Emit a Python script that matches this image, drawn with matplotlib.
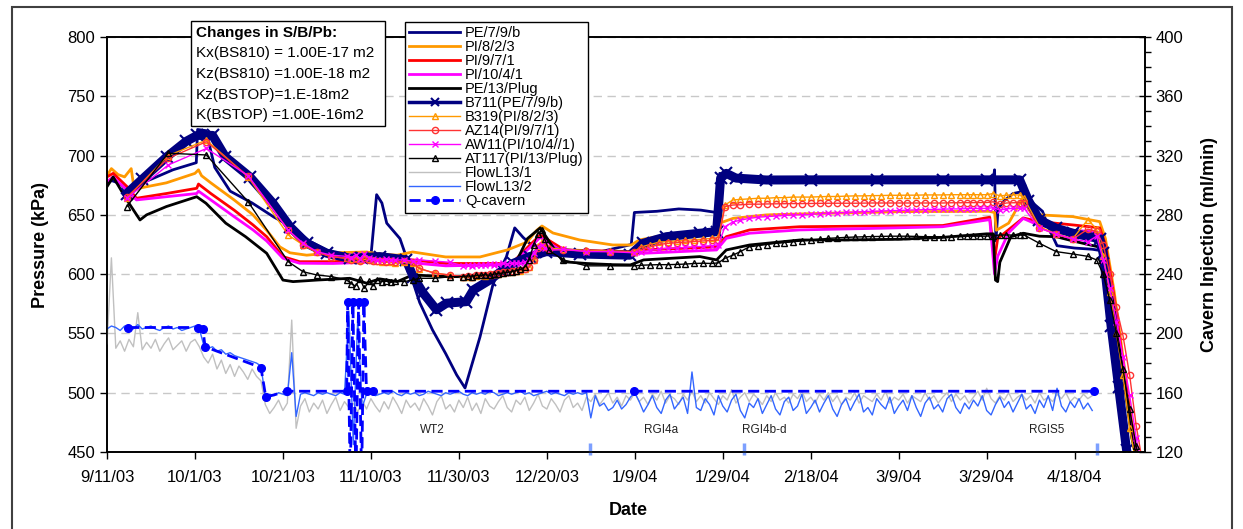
import matplotlib
matplotlib.use("Agg")
import matplotlib.pyplot as plt
import matplotlib.dates as mdates
from matplotlib.lines import Line2D
from matplotlib.patches import Rectangle
from matplotlib.ticker import FixedLocator, FuncFormatter, MultipleLocator
import numpy as np

plt.rcParams["font.family"] = ["Liberation Sans", "DejaVu Sans"]

START = np.datetime64("2003-09-11")

# model curves (days after 9/11/03, kPa)
pe7_days = [0, 1, 2.5, 4.5, 10, 15, 20.3, 20.6, 22.5, 24.5,
            28, 33, 38, 42, 46, 50, 54, 58, 60, 61.3,
            62.5, 63.6, 66.6, 68, 69.6, 71.1, 74, 77, 79.5, 81.4,
            84.8, 87.8, 90.8, 92.7, 94.6, 96.1, 100, 105, 112, 119.2,
            119.9, 125, 130, 135, 138.6, 139.3, 141, 144, 150, 170,
            190, 201.5, 201.8, 202.1, 202.6, 204, 206, 208.6, 210.5, 212.7,
            214, 216, 220, 224, 225.7, 227, 229, 231, 232]
pe7_kpa = [676, 679, 677, 672, 680, 688, 694, 722, 721, 690,
           670, 660, 648, 640, 628, 620, 616, 613, 615, 667,
           660, 643, 630, 615, 593, 576, 553, 533, 515, 504,
           547, 592, 614.5, 639, 631, 626, 620, 619, 618.7, 625,
           652, 653, 655, 654, 652, 685, 683, 681, 680, 680,
           680, 680, 688, 628, 655, 662, 668, 670, 660, 653,
           640, 624, 622, 621, 620, 585, 520, 462, 440]

pi8_days = [0, 1, 2.5, 4, 5.5, 6.2, 8, 13.5, 20, 20.8,
            21.5, 23.6, 28.9, 33.2, 36.3, 39.3, 41.6, 45.4, 51.4, 59,
            62, 66, 69.5, 77, 84.8, 91, 95.5, 97.7, 98.9, 101.4,
            107.5, 115, 119.2, 121, 127, 135, 138.6, 139.3, 142.3, 150,
            160, 180, 200.5, 201.8, 202.2, 205, 208.3, 212, 219.6, 225.7,
            227, 229, 231, 233, 234]
pi8_kpa = [683, 689, 684, 682, 689, 671, 673, 677, 685, 688,
           683, 677, 662.6, 650, 637, 623, 618, 616, 618, 618.7,
           617, 616, 618.7, 614.5, 614.5, 620.4, 627, 637, 640.6, 634.7,
           628.8, 624.6, 624.6, 628.8, 633, 634, 634.5, 643, 647, 650,
           651, 652.7, 653, 652, 637, 643, 665, 650, 648.5, 644.3,
           630, 585, 530, 475, 448]

pi9_days = [0, 1.4, 4.5, 6.7, 13.5, 20.4, 20.8, 23.6, 28.9, 33.2,
            36.3, 40, 43.8, 51.4, 59, 62, 77, 92, 96, 98.5,
            104, 119, 122, 138.6, 140.8, 146.1, 157.5, 175.7, 190, 200.7,
            201.8, 202.5, 208.3, 212, 219.6, 223.4, 225.7, 227, 229, 231,
            233, 234]
pi9_kpa = [682, 685, 674, 664, 668, 672.4, 676, 668, 654, 641.5,
           631.6, 614.8, 610.5, 610.5, 612, 614.8, 609, 609, 624, 633,
           620.4, 619, 620.4, 623, 631.6, 637.3, 640, 640.6, 641, 648,
           612, 630, 647.4, 644.3, 641.5, 640, 639, 625, 580, 525,
           470, 445]

pi10_days = [0, 1.4, 4.5, 6.7, 13.5, 20.4, 20.8, 23.6, 28.9, 33.2,
             36.3, 40, 43.8, 51.4, 59, 62, 77, 92, 96, 98.5,
             104, 119, 122, 138.6, 140.8, 146.1, 157.5, 175.7, 190, 200.7,
             201.8, 202.5, 205, 208.3, 212, 219.6, 223.4, 225.7, 227, 229,
             231, 233, 234]
pi10_kpa = [678, 682, 671, 662.6, 665.3, 668, 670, 662.6, 648.5, 637.3,
            628, 613.4, 609.2, 609, 610, 612, 607, 608, 622, 631,
            618, 617.6, 617.6, 620.4, 630.2, 634.5, 637.3, 638.7, 640, 646,
            600, 615, 635, 647, 641, 637, 636, 635, 620, 575,
            520, 465, 445]

pe13_days = [0, 1.4, 4.5, 7.5, 9, 13.5, 20.4, 22.5, 27, 31.5,
             36.3, 40, 42.3, 47.7, 55.2, 59, 62, 66, 69.5, 77,
             84, 88, 93, 95.6, 98.5, 101, 103.7, 109, 115, 119,
             122, 134.8, 138.6, 140.8, 146.1, 157.5, 166.6, 180, 190, 200,
             201.5, 202, 202.5, 203, 205.5, 208.3, 212, 215.8, 219.6, 225.4,
             227, 229, 231, 233, 234]
pe13_kpa = [673.8, 682, 662.6, 645.7, 650, 657, 665.3, 659.8, 643, 631.6,
            617.6, 595, 593.7, 595, 596.5, 592.4, 596, 593.7, 599.3, 598,
            597.7, 600.7, 610, 630, 639, 625, 610.5, 609, 608, 607.8,
            612, 614.8, 612, 620.4, 624.6, 628.8, 628.8, 629.4, 631, 634,
            634, 595, 593.7, 610, 631.6, 634.5, 632, 631.6, 628, 623,
            610, 570, 515, 462, 445]

# measured gauges
b711_days = [4.5, 8.0, 13.6, 18.0, 20.5, 24.0, 26.9, 32.5, 37.7, 41.6,
             45.4, 50.0, 55.2, 58.0, 62.0, 68.0, 69.6, 71.9, 74.9, 77.2,
             81.7, 83.3, 87.0, 90.0, 92.3, 96.1, 99.9, 107.5, 118.9, 121.9,
             127.2, 134.8, 138.6, 139.5, 140.8, 143.0, 149.9, 160.0, 175.0, 190.0,
             200.0, 207.5, 209.5, 212.0, 215.8, 219.6, 223.4, 225.7, 226.5, 228.3,
             230.0, 231.8, 233.0]
b711_kpa = [668, 680, 699, 712, 717, 717, 699, 682, 660, 640,
            626, 617.6, 613.4, 614, 614.8, 612, 598, 584, 570, 575.5,
            576.8, 586.7, 595, 603.5, 609, 614.8, 619, 617, 616, 626,
            631.6, 634.5, 635.8, 680.8, 685, 681, 679.4, 679.5, 679.5, 679.5,
            679.5, 679.5, 662, 645.7, 638.7, 634.5, 631.6, 630, 618, 556,
            505, 452, 430]

obs_days = [4.5, 13.9, 22.6, 32.1, 41.2, 44.6, 47.7, 51.0, 54.5, 55.5,
            56.5, 57.5, 58.5, 59.5, 60.5, 61.5, 62.5, 63.5, 64.5, 65.5,
            67.5, 69.5, 71.0, 74.5, 78.0, 81.0, 82.0, 83.0, 84.0, 85.0,
            86.0, 87.0, 88.0, 89.0, 90.0, 91.0, 92.0, 93.0, 94.0, 95.0,
            96.0, 97.0, 98.0, 98.8, 99.5, 100.5, 103.7, 109.0, 114.3, 119.8,
            121.5, 123.5, 125.5, 127.5, 129.5, 131.5, 133.5, 135.5, 137.5, 139.0,
            140.5, 142.3, 144.0, 146.0, 148.0, 150.0, 152.0, 154.0, 156.0, 158.0,
            160.0, 162.0, 164.0, 166.0, 168.0, 170.0, 172.0, 174.0, 176.0, 178.0,
            180.0, 182.0, 184.0, 186.0, 188.0, 190.0, 192.0, 194.0, 195.5, 197.0,
            198.5, 200.0, 201.5, 203.0, 204.5, 206.0, 207.5, 208.5, 212.0, 215.8,
            219.6, 223.0, 225.0, 226.5, 228.0, 229.5, 231.0, 232.5, 234.0, 235.5]
b319_kpa = [664, 700, 713, 682, 633, 624.6, 618.5, 614.8, 613.4, 613,
            614, 612, 615, 613, 612, 611, 610, 611, 610, 609,
            610, 609, 604.5, 601, 599, 597.5, 598, 597.5, 598.5, 599,
            598.5, 599.5, 600, 600.5, 601, 601.5, 602, 602.5, 603, 604,
            606, 612, 624, 627, 624, 622, 621, 620, 619.5, 619,
            623, 625, 627, 627.5, 628, 628.5, 629, 629.5, 630.2, 631,
            658.3, 662.6, 663, 663.5, 664, 664, 664.5, 664.5, 665, 665,
            665, 665.3, 665.5, 665.5, 665.8, 666, 666, 666.2, 666.3, 666.5,
            666.5, 666.6, 666.6, 666.8, 666.8, 666.8, 667, 667, 667, 667,
            667, 667, 668, 666, 666.5, 666.8, 666.8, 664, 640, 634,
            630, 646, 638, 615, 585, 550, 515, 470, 440, 420]
az14_kpa = [665, 697.7, 711.7, 682.5, 637.3, 624.6, 618.5, 614.8, 613.4, 612,
            613, 611, 614, 612, 611, 611, 611, 610, 611, 610,
            611, 610, 605, 600.7, 599.3, 598, 598.5, 598, 599, 599.5,
            599, 600, 600.5, 601, 601.5, 602, 602.5, 603, 603.5, 604,
            606, 612, 622, 625, 623, 621, 620.4, 619.5, 619, 618.5,
            621, 623, 625, 626, 626.5, 627, 627.5, 628, 628.5, 629,
            657, 658.3, 658.5, 659, 659, 659.2, 659.3, 659.4, 659.5, 659.5,
            659.6, 659.7, 659.8, 659.8, 659.8, 659.8, 659.9, 660, 660, 660,
            660, 660, 660, 660, 660, 660, 660.2, 660.2, 660.3, 660.3,
            660.4, 660.4, 661, 659, 660, 660.2, 660.3, 660, 639, 633.5,
            629.5, 638, 636, 625, 600, 572, 548, 515, 472, 440]
aw11_kpa = [664, 692, 706, 683, 637, 626, 619, 616, 615, 614,
            616, 613, 617, 614, 613, 612, 612, 613, 612, 612,
            612, 611, 612, 611, 610, 607, 607.5, 607, 608, 607.5,
            608, 608.5, 608, 608.5, 609, 608.5, 609, 609.5, 609, 610,
            612, 618, 623, 625, 622, 620, 621, 619, 619, 618,
            619, 620, 621, 621.8, 622, 622.5, 623, 623.5, 624, 624.6,
            640, 644, 645.5, 647, 648, 648.5, 649, 649.5, 650, 650,
            650.5, 651, 651.3, 651.6, 652, 652.3, 652.6, 653, 653.2, 653.5,
            653.7, 654, 654.2, 654.4, 654.6, 654.8, 655, 655, 655.2, 655.3,
            655.4, 655.5, 656, 654, 655, 655.5, 655.6, 655.5, 638.7, 634,
            629.5, 627.4, 632, 612, 588, 560, 530, 498, 462, 432]
at117_kpa = [657, 702, 700.5, 661, 610.5, 602, 599.3, 598, 595, 592,
             590, 596, 588, 594, 590, 595, 593.7, 594, 593, 594,
             593.7, 595, 596.5, 596.5, 597.8, 598, 598.5, 598, 599, 599,
             599.5, 599, 600, 600.5, 601, 601.5, 602, 603, 604, 606,
             612, 625, 634, 637, 630, 620, 612, 607, 607, 607,
             607.5, 607.8, 608, 608, 608.2, 608.5, 609, 609.2, 609, 609.5,
             613.4, 616, 619, 623, 624, 625, 626, 626.6, 627.3, 628,
             628.8, 629.5, 630.2, 630.6, 631, 631.3, 631.5, 631.7, 631.8, 632,
             632, 632, 631.8, 631.6, 631.6, 631.6, 631.7, 631.8, 632, 632,
             632, 632, 632.5, 633, 633, 633, 633, 633, 626, 619,
             617, 615, 612, 600, 578, 550, 520, 486, 455, 430]

# flow lines, daily values from 9/11/03 (ml/min)
flow_l13_1 = [193, 251, 190, 195, 188, 196, 191, 214, 189, 194,
              190, 196, 188, 193, 197, 189, 192, 195, 188, 194,
              196, 191, 184, 180, 186, 176, 182, 173, 179, 171,
              178, 174, 169, 176, 171, 168, 152, 146, 150, 155,
              148, 153, 209, 136, 151, 156, 147, 153, 149, 155,
              146, 152, 157, 148, 154, 150, 153, 147, 155, 149,
              156, 151, 147, 154, 149, 157, 152, 146, 155, 150,
              153, 148, 156, 151, 145, 154, 158, 149, 152, 147,
              155, 150, 157, 148, 153, 146, 156, 151, 149, 154,
              158, 150, 147, 155, 152, 157, 148, 153, 159, 151,
              149, 156, 152, 147, 155, 158, 150, 153, 148, 157,
              154, 159, 152, 156, 160, 153, 157, 151, 158, 155,
              160, 154, 157, 152, 159, 155, 161, 153, 158, 156,
              152, 159, 155, 161, 154, 158, 153, 160, 156, 152,
              158, 155, 162, 153, 157, 160, 154, 159, 156, 152,
              158, 154, 160, 155, 157, 153, 159, 156, 161, 154,
              157, 153, 159, 155, 160, 154, 158, 152, 157, 155,
              160, 153, 158, 156, 154, 159, 155, 161, 153, 157,
              155, 159, 153, 158, 156, 154, 160, 155, 158, 153,
              157, 160, 154, 159, 155, 158, 153, 157, 161, 155,
              163, 156, 153, 158, 155, 160, 154, 157, 159, 155,
              158, 153, 160, 155, 157, 154, 159, 156, 160, 154,
              157, 155, 159, 156, 158]
flow_l13_2 = [203, 205, 204, 202, 205, 204, 203, 206, 203, 204,
              205, 203, 202, 204, 205, 203, 204, 202, 203, 204,
              205, 203, 192, 190, 191, 188, 189, 186, 187, 185,
              184, 183, 182, 181, 180, 178, 157, 159, 158, 160,
              159, 158, 187, 144, 159, 160, 159, 158, 160, 159,
              160, 159, 158, 160, 159, 215, 125, 210, 150, 159,
              160, 158, 159, 160, 159, 161, 159, 158, 160, 159,
              160, 158, 159, 161, 160, 159, 158, 160, 159, 160,
              161, 159, 158, 160, 159, 160, 159, 161, 160, 158,
              159, 160, 159, 160, 161, 159, 160, 158, 159, 160,
              161, 159, 160, 159, 158, 160, 159, 160, 159, 160,
              143, 158, 151, 153, 148, 150, 155, 149, 152, 157,
              160, 154, 147, 152, 158, 150, 146, 155, 159, 149,
              153, 157, 146, 174, 150, 148, 156, 152, 145, 158,
              151, 147, 155, 159, 148, 143, 153, 150, 156, 146,
              152, 158, 149, 145, 154, 157, 148, 151, 159, 146,
              150, 155, 147, 153, 158, 149, 144, 152, 156, 148,
              154, 159, 147, 150, 145, 156, 152, 149, 157, 146,
              151, 155, 148, 158, 150, 144, 153, 157, 149, 152,
              147, 156, 159, 150, 146, 153, 149, 155, 151, 158,
              148, 145, 152, 157, 150, 154, 147, 153, 159, 149,
              152, 146, 155, 150, 158, 148, 163, 151, 147, 154,
              150, 156, 149, 153, 148]

q_days = [4.8, 20.7, 21.8, 22.3, 35.0, 36.1, 40.9, 54.5, 54.7, 55.3,
          55.9, 56.6, 57.2, 57.9, 58.4, 59.0, 60.5, 119.8, 224.5]
q_rate = [204, 204, 203, 191, 177, 157, 161, 161, 221, 100,
          221, 100, 221, 100, 221, 161, 161, 161, 161]

event_labels = ["WT2", "RGI4a", "RGI4b-d", "RGIS5"]
event_label_days = [74, 126, 149.5, 213.6]
event_bar_days = [109.8, 144.8, 225.2]

param_lines = ["Changes in S/B/Pb:",
               "Kx(BS810) = 1.00E-17 m2",
               "Kz(BS810) =1.00E-18 m2",
               "Kz(BSTOP)=1.E-18m2",
               "K(BSTOP) =1.00E-16m2"]

NAVY = "#000080"
ORANGE = "#FF9900"
RED = "#FF0000"
MAGENTA = "#FF00FF"


def to_x(days):
    return mdates.date2num(START) + np.asarray(days, dtype=float)


def fmt_date(v, pos):
    d = mdates.num2date(v)
    return f"{d.month}/{d.day}/{d.year % 100:02d}"


def main():
    W, H = 1243, 529
    fig = plt.figure(figsize=(W / 100, H / 100), dpi=100)
    ax = fig.add_axes([107 / W, 1 - 452 / H, 1038 / W, 415 / H])
    ax2 = ax.twinx()

    lines = []
    lines += ax.plot(to_x(pe7_days), pe7_kpa, color=NAVY, lw=2, label="PE/7/9/b")
    lines += ax.plot(to_x(pi8_days), pi8_kpa, color=ORANGE, lw=2, label="PI/8/2/3")
    lines += ax.plot(to_x(pi9_days), pi9_kpa, color=RED, lw=2, label="PI/9/7/1")
    lines += ax.plot(to_x(pi10_days), pi10_kpa, color=MAGENTA, lw=2, label="PI/10/4/1")
    lines += ax.plot(to_x(pe13_days), pe13_kpa, color="black", lw=2, label="PE/13/Plug")

    ax.plot(to_x(b711_days), b711_kpa, color=NAVY, lw=6.5, marker="x", ms=8, mew=1.5,
            solid_joinstyle="round")
    lines.append(Line2D([], [], color=NAVY, lw=2.5, marker="x", ms=6, mew=1.5,
                        label="B711(PE/7/9/b)"))
    lines += ax.plot(to_x(obs_days), b319_kpa, color=ORANGE, lw=1, marker="^", ms=5,
                     mfc="none", mew=1, label="B319(PI/8/2/3)")
    lines += ax.plot(to_x(obs_days), az14_kpa, color="#FF3333", lw=1, marker="o", ms=4.5,
                     mfc="none", mew=1, label="AZ14(PI/9/7/1)")
    lines += ax.plot(to_x(obs_days), aw11_kpa, color=MAGENTA, lw=1, marker="x", ms=5,
                     mew=1, label="AW11(PI/10/4//1)")
    lines += ax.plot(to_x(obs_days), at117_kpa, color="black", lw=1, marker="^", ms=5,
                     mfc="none", mew=1, label="AT117(PI/13/Plug)")

    flow_days = np.arange(len(flow_l13_1))
    lines += ax2.plot(to_x(flow_days), flow_l13_1, color="#C0C0C0", lw=1, label="FlowL13/1")
    lines += ax2.plot(to_x(np.arange(len(flow_l13_2))), flow_l13_2, color="#3366FF", lw=1,
                      label="FlowL13/2")
    lines += ax2.plot(to_x(q_days), q_rate, color="#0000FF", lw=2, ls=(0, (4, 2)),
                      marker="o", ms=5.5, label="Q-cavern")

    ax2.vlines(to_x(event_bar_days), 118, 126, color="#7DA0FF", lw=2.5, clip_on=False)
    for lab, d in zip(event_labels, event_label_days):
        ax2.text(to_x(d), 134.8, lab, fontsize=8.5, ha="center", va="center", color="#222222")

    ax.set_xlim(to_x(0), to_x(236))
    ax.set_ylim(450, 800)
    ax2.set_ylim(120, 400)
    ax.yaxis.set_major_locator(MultipleLocator(50))
    ax2.yaxis.set_major_locator(MultipleLocator(40))
    ax2.yaxis.set_minor_locator(MultipleLocator(10))
    ax.xaxis.set_major_locator(FixedLocator(to_x(np.arange(0, 221, 20))))
    ax.xaxis.set_major_formatter(FuncFormatter(fmt_date))

    ax.grid(axis="y", color="#C8C8C8", ls=(0, (6, 4)), lw=1)
    ax.set_axisbelow(True)
    ax.tick_params(axis="both", labelsize=12, direction="out", length=5, width=1)
    ax.tick_params(axis="x", pad=8)
    ax2.tick_params(axis="y", which="major", labelsize=12, direction="inout", length=8, width=1)
    ax2.tick_params(axis="y", which="minor", direction="out", length=4, width=1)
    for a in (ax, ax2):
        for s in a.spines.values():
            s.set_linewidth(1.2)

    ax.set_ylabel("Pressure (kPa)", fontsize=13, fontweight="bold")
    ax.yaxis.set_label_coords(-0.056, 0.5)
    ax2.set_ylabel("Cavern Injection (ml/min)", fontsize=13, fontweight="bold")
    ax2.yaxis.set_label_coords(1.054, 0.5)
    ax.set_xlabel("Date", fontsize=13, fontweight="bold")
    ax.xaxis.set_label_coords(0.502, -0.12)

    leg = ax2.legend(handles=lines, loc="upper left", bbox_to_anchor=(405 / W, 1 - 22 / H),
                     bbox_transform=fig.transFigure, fontsize=10.5, frameon=True, fancybox=False,
                     framealpha=1, edgecolor="black", borderpad=0.3, handlelength=3.5,
                     handletextpad=0.3, labelspacing=0.0, borderaxespad=0)
    leg.get_frame().set_linewidth(1)
    leg.set_zorder(10)

    fig.patches.append(Rectangle((191 / W, 1 - 126 / H), 194 / W, 105 / H,
                                 transform=fig.transFigure, fc="white", ec="black",
                                 lw=1, zorder=5))
    for i, txt in enumerate(param_lines):
        fig.text(196 / W, 1 - (33 + 20.5 * i) / H, txt, fontsize=11, va="center",
                 ha="left", fontweight="bold" if i == 0 else "normal", zorder=6)

    fig.patches.append(Rectangle((12 / W, -0.05), 1220 / W, 1.05 - 7 / H,
                                 transform=fig.transFigure, fill=False, ec="#404040",
                                 lw=1.5, zorder=1))

    fig.savefig("out.png", dpi=100)


if __name__ == "__main__":
    main()
